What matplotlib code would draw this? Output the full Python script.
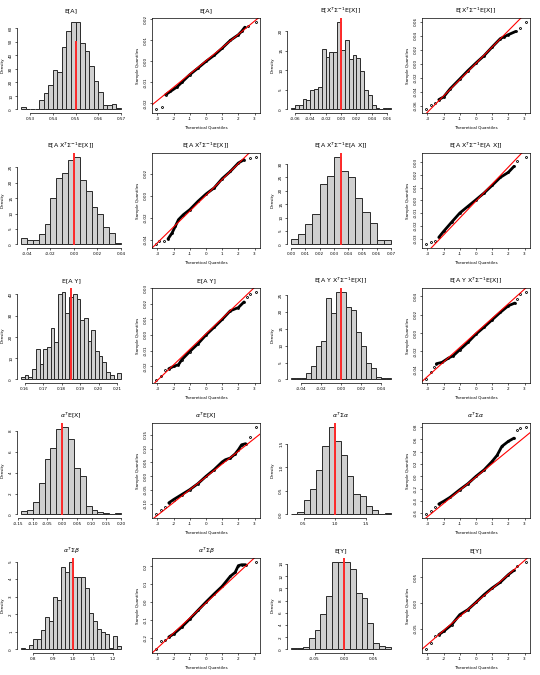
import numpy as np
import matplotlib
matplotlib.use("Agg")
import matplotlib.pyplot as plt

# ---------------- histogram data: first break, bin width, densities ----------------
ea_start, ea_width = 0.526, 0.002
ea_dens = [2, 0, 0, 0.7, 7, 12, 18, 29, 28, 46, 58, 65, 65, 49, 43, 32.5, 21, 13, 3, 3, 3.75, 1]

xsx_start, xsx_width = -0.065, 0.005
xsx_dens = [0.26, 1.2, 1.2, 2.75, 2.3, 4.9, 5.2, 5.8, 15.5, 13.4, 14.7, 14.7, 22.4,
            15.1, 17.8, 12.9, 14, 13.2, 9.7, 4.9, 3.6, 1.1, 0.4, 0.1, 0.3, 0.3]

axsx_start, axsx_width = -0.045, 0.005
axsx_dens = [2.0, 1.6, 1.3, 3.3, 6.5, 14.9, 21.5, 23.2, 27.5, 28.5, 20.9, 17.2, 12.3, 10, 5.8, 3.6, 0.4]

axsax_start, axsax_width = 0.0, 0.005
axsax_dens = [1.9, 4, 7.5, 11.5, 22.5, 25.4, 32.75, 27.5, 25, 17.25, 12.25, 7.9, 1.5, 1.5]

ay_start, ay_width = 0.158, 0.002
ay_dens = [1.1, 1.9, 1.1, 5.1, 14.3, 7.1, 14.3, 15.4, 24.3, 17.5, 40.2, 41.3, 31.3, 38.6,
           40.2, 37.6, 27.8, 29, 18.3, 23.3, 13.5, 11.1, 8.4, 3.5, 2.1, 0, 2.9]

ayxsx_start, ayxsx_width = -0.05, 0.005
ayxsx_dens = [0.3, 0.3, 0.3, 2, 4, 10, 11.5, 24, 19.7, 26, 26, 21.3, 20.5, 14, 10, 5, 3.5, 0.7, 0.3, 0.3]

aex_start, aex_width = -0.14, 0.02
aex_dens = [0.32, 0.42, 1.2, 3.0, 5.3, 6.35, 8.15, 8.4, 7.25, 4.4, 3.7, 0.8, 0.4, 0.23, 0.1, 0, 0.1]

asa_start, asa_width = 0.3, 0.1
asa_dens = [0.02, 0.06, 0.31, 0.54, 0.94, 1.45, 1.87, 1.56, 1.27, 0.81, 0.43, 0.40, 0.17, 0.09, 0.02, 0.04]

asb_start, asb_width = 0.74, 0.02
asb_dens = [0.06, 0, 0.25, 0.58, 0.58, 1.1, 1.87, 1.63, 3.0, 2.8, 4.7, 4.4, 5.0, 4.1, 4.1, 4.1,
            3.5, 2.06, 1.63, 1.15, 1.0, 0.87, 0.06, 0.77, 0.19]

ey_start, ey_width = -0.09, 0.01
ey_dens = [0.17, 0.17, 0.4, 1.8, 3.2, 5.8, 8.7, 14.4, 14.3, 14.4, 13.1, 9.3, 8.4, 4.3, 1.1, 0.55, 0.4]

# red reference values (and height of the red segment, None = full height)
true_vals = [0.55, 0.0, 0.0, 0.035, 0.185, 0.0, 0.0, 1.0, 1.0, 0.0]
true_tops = [50, None, None, None, None, None, None, None, None, None]

# histogram tick labels
hx_ticks = [["0.53", "0.54", "0.55", "0.56", "0.57"],
            ["-0.06", "-0.04", "-0.02", "0.00", "0.02", "0.04", "0.06"],
            ["-0.04", "-0.02", "0.00", "0.02", "0.04"],
            ["0.00", "0.01", "0.02", "0.03", "0.04", "0.05", "0.06", "0.07"],
            ["0.16", "0.17", "0.18", "0.19", "0.20", "0.21"],
            ["-0.04", "-0.02", "0.00", "0.02", "0.04"],
            ["-0.15", "-0.10", "-0.05", "0.00", "0.05", "0.10", "0.15", "0.20"],
            ["0.5", "1.0", "1.5"],
            ["0.8", "0.9", "1.0", "1.1", "1.2"],
            ["-0.05", "0.00", "0.05"]]
hy_ticks = [["0", "10", "20", "30", "40", "50", "60"],
            ["0", "5", "10", "15", "20"],
            ["0", "5", "10", "15", "20", "25"],
            ["0", "5", "10", "15", "20", "25", "30"],
            ["0", "10", "20", "30", "40"],
            ["0", "5", "10", "15", "20", "25"],
            ["0", "2", "4", "6", "8"],
            ["0.0", "0.5", "1.0", "1.5"],
            ["0", "1", "2", "3", "4", "5"],
            ["0", "2", "4", "6", "8", "10", "12", "14"]]

# ---------------- QQ data: theoretical quantile, sample quantile ----------------
ea_theo = [-3.09, -2.75, -2.5, -2.2, -1.8, -1.5, -1.0, -0.5, 0, 0.5, 1.0, 1.5, 2.0, 2.2, 2.4, 2.6, 3.09]
ea_samp = [-0.0229, -0.0217, -0.0159, -0.0143, -0.0122, -0.0100, -0.0063, -0.0032, 0.0, 0.0029,
           0.0063, 0.0100, 0.0127, 0.0143, 0.0163, 0.0167, 0.019]

xsx_theo = [-3.09, -2.8, -2.55, -2.3, -2.0, -1.6, -1.0, -0.5, 0, 0.5, 1.0, 1.5, 1.7, 2.0, 2.45, 2.7, 3.09]
xsx_samp = [-0.0655, -0.059, -0.056, -0.0514, -0.0476, -0.036, -0.0219, -0.010, 0.001, 0.0114,
            0.0238, 0.0357, 0.038, 0.0414, 0.046, 0.051, 0.0602]

axsx_theo = [-3.09, -2.9, -2.6, -2.35, -2.1, -1.9, -1.7, -1.4, -1.0, -0.5, 0, 0.5, 1.0, 1.5, 2.0, 2.35, 2.7, 3.09]
axsx_samp = [-0.0444, -0.0415, -0.0409, -0.0394, -0.034, -0.028, -0.0218, -0.0173, -0.0127, -0.0052,
             0.0015, 0.007, 0.0155, 0.022, 0.0297, 0.0327, 0.0342, 0.0356]

axsax_theo = [-3.09, -2.8, -2.55, -2.3, -2.0, -1.5, -1.0, -0.5, 0, 0.5, 1.0, 1.5, 2.0, 2.35, 2.55, 3.09]
axsax_samp = [-0.0346, -0.0327, -0.0317, -0.029, -0.0243, -0.017, -0.0099, -0.0047, 0.0005, 0.0058,
              0.0118, 0.018, 0.022, 0.0267, 0.031, 0.0344]

ay_theo = [-3.09, -2.8, -2.55, -2.3, -2.0, -1.7, -1.5, -1.0, -0.5, 0, 0.5, 1.0, 1.5, 2.0, 2.35, 2.55, 2.7, 3.09]
ay_samp = [-0.0285, -0.026, -0.0222, -0.0216, -0.0201, -0.019, -0.0159, -0.0106, -0.0057, 0.0,
           0.0049, 0.0099, 0.0154, 0.0175, 0.0211, 0.0243, 0.026, 0.0274]

ayxsx_theo = [-3.09, -2.8, -2.6, -2.45, -2.1, -1.7, -1.4, -1.0, -0.5, 0, 0.5, 1.0, 1.5, 2.0, 2.4, 2.55, 2.7, 3.09]
ayxsx_samp = [-0.0507, -0.043, -0.0375, -0.0335, -0.032, -0.0273, -0.0247, -0.0182, -0.0102, -0.0011,
              0.0065, 0.0145, 0.0225, 0.0298, 0.0327, 0.037, 0.043, 0.0453]

aex_theo = [-3.09, -2.8, -2.55, -2.3, -2.0, -1.5, -1.0, -0.5, 0, 0.5, 1.0, 1.2, 1.5, 1.8, 2.0, 2.2, 2.45, 2.7, 3.09]
aex_samp = [-0.138, -0.120, -0.112, -0.096, -0.084, -0.066, -0.048, -0.0265, 0.0, 0.024, 0.052,
            0.060, 0.066, 0.081, 0.096, 0.114, 0.118, 0.142, 0.180]

asa_theo = [-3.09, -2.8, -2.55, -2.3, -2.0, -1.6, -1.0, -0.5, 0, 0.5, 1.0, 1.3, 1.6, 2.0, 2.35, 2.55, 2.7, 3.09]
asa_samp = [-0.619, -0.557, -0.503, -0.449, -0.405, -0.34, -0.216, -0.119, 0.0, 0.105, 0.243, 0.34,
            0.486, 0.568, 0.62, 0.757, 0.784, 0.808]

asb_theo = [-3.09, -2.8, -2.55, -2.3, -2.0, -1.5, -1.0, -0.5, 0, 0.5, 1.0, 1.5, 1.8, 2.0, 2.2, 2.45, 3.09]
asb_samp = [-0.266, -0.22, -0.211, -0.196, -0.179, -0.14, -0.095, -0.047, 0.0, 0.045, 0.088, 0.144,
            0.166, 0.204, 0.209, 0.209, 0.227]

ey_theo = [-3.09, -2.8, -2.55, -2.3, -2.0, -1.5, -1.0, -0.5, 0, 0.5, 1.0, 1.5, 2.0, 2.35, 2.55, 3.09]
ey_samp = [-0.0894, -0.077, -0.064, -0.061, -0.0545, -0.0417, -0.0224, -0.0128, 0.0013, 0.016,
           0.0288, 0.0397, 0.0545, 0.0628, 0.0705, 0.0797]

# qqline slope / intercept
qq_slopes = [0.0063, 0.0233, 0.0144, 0.0133, 0.0099, 0.0159, 0.0463, 0.215, 0.0843, 0.0269]
qq_icpts = [0.0003, 0.0005, 0.0004, -0.0005, 0.0007, 0.0002, -0.002, -0.01, -0.005, 0.0009]

qx_ticks = ["-3", "-2", "-1", "0", "1", "2", "3"]
qy_ticks = [["-0.02", "-0.01", "0.00", "0.01", "0.02"],
            ["-0.06", "-0.04", "-0.02", "0.00", "0.02", "0.04", "0.06"],
            ["-0.04", "-0.02", "0.00", "0.02"],
            ["-0.03", "-0.02", "-0.01", "0.00", "0.01", "0.02", "0.03"],
            ["-0.02", "-0.01", "0.00", "0.01", "0.02", "0.03"],
            ["-0.04", "-0.02", "0.00", "0.02", "0.04"],
            ["-0.10", "-0.05", "0.00", "0.05", "0.10", "0.15"],
            ["-0.6", "-0.4", "-0.2", "0.0", "0.2", "0.4", "0.6", "0.8"],
            ["-0.2", "-0.1", "0.0", "0.1", "0.2"],
            ["-0.05", "0.00", "0.05"]]

titles = [r"E[A]",
          r"E[X$^T\Sigma^{-1}$E[X]]",
          r"E[A X$^T\Sigma^{-1}$E[X]]",
          r"E[A X$^T\Sigma^{-1}$E[A X]]",
          r"E[A Y]",
          r"E[A Y X$^T\Sigma^{-1}$E[X]]",
          r"$\alpha^T$E[X]",
          r"$\alpha^T\Sigma\alpha$",
          r"$\alpha^T\Sigma\beta$",
          r"E[Y]"]

hists = [(ea_start, ea_width, ea_dens), (xsx_start, xsx_width, xsx_dens),
         (axsx_start, axsx_width, axsx_dens), (axsax_start, axsax_width, axsax_dens),
         (ay_start, ay_width, ay_dens), (ayxsx_start, ayxsx_width, ayxsx_dens),
         (aex_start, aex_width, aex_dens), (asa_start, asa_width, asa_dens),
         (asb_start, asb_width, asb_dens), (ey_start, ey_width, ey_dens)]
qqs = [(ea_theo, ea_samp), (xsx_theo, xsx_samp), (axsx_theo, axsx_samp), (axsax_theo, axsax_samp),
       (ay_theo, ay_samp), (ayxsx_theo, ayxsx_samp), (aex_theo, aex_samp), (asa_theo, asa_samp),
       (asb_theo, asb_samp), (ey_theo, ey_samp)]

TS = 4.5    # title size
FS = 3      # tick / label size
W, H = 540, 675


def panel_axes(fig, row, col):
    cx, cy = col * 135, row * 135
    return fig.add_axes([(cx + 17) / W, 1 - (cy + 113) / H, 108 / W, 95 / H])


def style_ticks(ax, xt, yt):
    ax.set_xticks([float(t) for t in xt])
    ax.set_xticklabels(xt)
    ax.set_yticks([float(t) for t in yt])
    ax.set_yticklabels(yt, rotation=90, va="center")
    ax.tick_params(length=1.6, width=0.5, labelsize=FS, pad=1.2, color="#222222")


def draw_hist(ax, i):
    start, width, dens = hists[i]
    dens = np.asarray(dens)
    lefts = start + width * np.arange(len(dens))
    ax.bar(lefts, dens, width=width, align="edge", color="#d0d0d0",
           edgecolor="#2a2a2a", linewidth=0.7)
    lo, hi = start, start + width * len(dens)
    ax.set_xlim(lo - 0.04 * (hi - lo), hi + 0.04 * (hi - lo))
    ymax = dens.max()
    ax.set_ylim(-0.04 * ymax, 1.04 * ymax)
    top = 1.04 * ymax if true_tops[i] is None else true_tops[i]
    ax.plot([true_vals[i], true_vals[i]], [0, top], color="#ff2a2a", lw=1.4)
    for s in ["top", "right"]:
        ax.spines[s].set_visible(False)
    for s in ["left", "bottom"]:
        ax.spines[s].set_linewidth(0.5)
    style_ticks(ax, hx_ticks[i], hy_ticks[i])
    ax.spines["bottom"].set_bounds(float(hx_ticks[i][0]), float(hx_ticks[i][-1]))
    ax.spines["left"].set_bounds(float(hy_ticks[i][0]), float(hy_ticks[i][-1]))
    ax.set_title(titles[i], fontsize=TS, pad=4)
    ax.set_ylabel("Density", fontsize=FS)
    ax.yaxis.set_label_coords(-0.115, 0.5)


def draw_qq(ax, i):
    theo, samp = np.asarray(qqs[i][0]), np.asarray(qqs[i][1])
    inner = np.abs(theo) <= 2.5
    ax.plot(theo[inner], samp[inner], color="black", lw=2.0, solid_capstyle="round")
    ax.plot(theo, samp, "o", ms=1.4, mfc="none", mec="black", mew=0.6)
    ax.axline((0, qq_icpts[i]), slope=qq_slopes[i], color="red", lw=0.8)
    xr, yr = np.ptp(theo), np.ptp(samp)
    ax.set_xlim(theo.min() - 0.04 * xr, theo.max() + 0.04 * xr)
    ax.set_ylim(samp.min() - 0.04 * yr, samp.max() + 0.04 * yr)
    for s in ax.spines.values():
        s.set_linewidth(0.5)
    style_ticks(ax, qx_ticks, qy_ticks[i])
    ax.set_title(titles[i], fontsize=TS, pad=4)
    ax.set_xlabel("Theoretical Quantiles", fontsize=FS)
    ax.set_ylabel("Sample Quantiles", fontsize=FS)
    ax.xaxis.set_label_coords(0.5, -0.13)
    ax.yaxis.set_label_coords(-0.115, 0.5)


fig = plt.figure(figsize=(5.4, 6.75), dpi=100)
for i in range(10):
    row, half = i // 2, i % 2
    draw_hist(panel_axes(fig, row, 2 * half), i)
    draw_qq(panel_axes(fig, row, 2 * half + 1), i)

fig.savefig("out.png", dpi=100)
